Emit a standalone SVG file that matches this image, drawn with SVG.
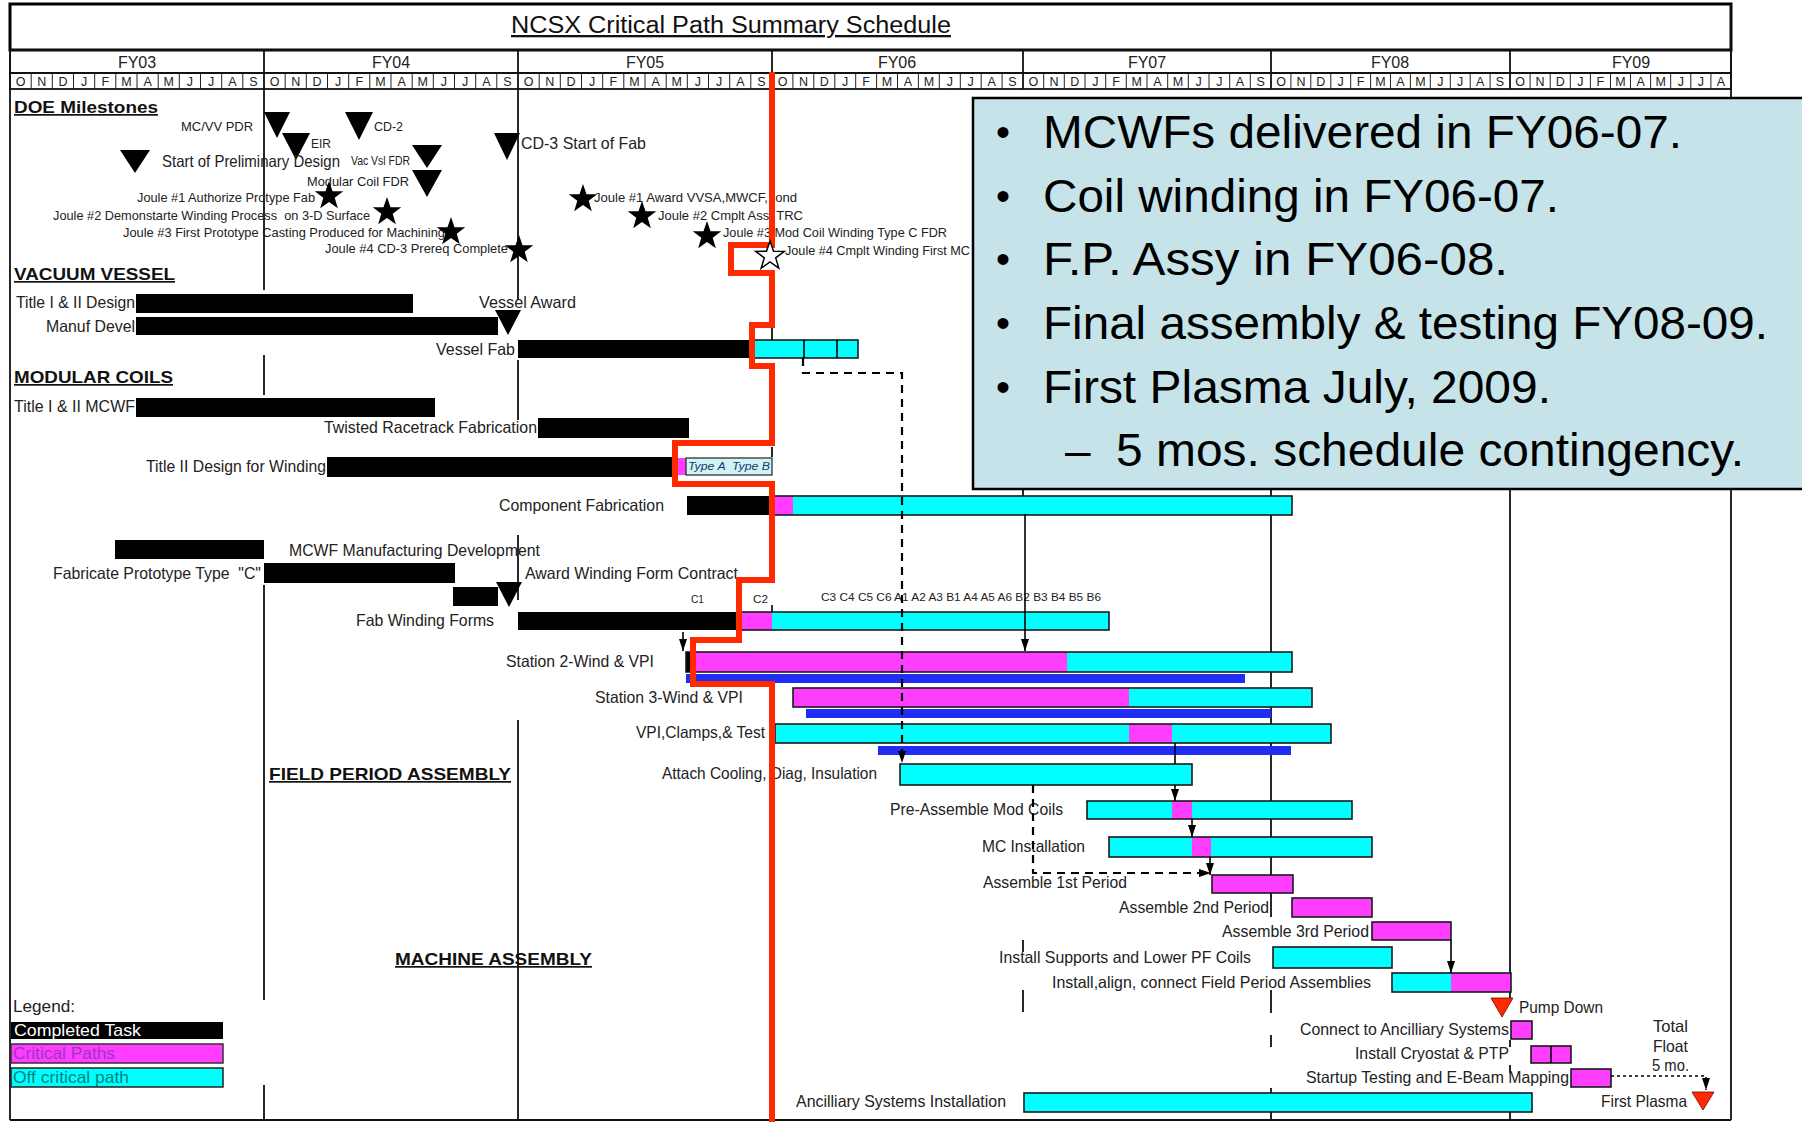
<svg xmlns="http://www.w3.org/2000/svg" width="1802" height="1122" viewBox="0 0 1802 1122">
<defs>
<style>
text{font-family:"Liberation Sans",Arial,sans-serif;fill:#222}
.l{font-size:16.5px}
.s{font-size:13px}
.t{font-size:11.5px}
.h{font-size:17px;font-weight:bold;text-decoration:underline;fill:#111}
.mo{font-size:12.5px;text-anchor:middle}
.fy{font-size:16px;text-anchor:middle}
.k{fill:#000}
.m{fill:#ff3dff}
.c{fill:#00ffff}
.o{fill:none;stroke:#1a1a1a;stroke-width:1.6}
.b{fill:#1f2ef2}
.g{stroke:#111;stroke-width:1.8;fill:none}
.cn{stroke:#000;stroke-width:1.6;fill:none}
.d{stroke:#000;stroke-width:2.2;fill:none;stroke-dasharray:8 6}
.tri{fill:#000}
.rt{fill:#ff2a00;stroke:#700;stroke-width:0.8}
.big{font-size:46px;fill:#000}
.bul{font-size:40px;fill:#000;text-anchor:middle}
</style>
<marker id="ah" viewBox="0 0 12 8" refX="12" refY="4" markerWidth="12" markerHeight="8" markerUnits="userSpaceOnUse" orient="auto"><path d="M0,0 L12,4 L0,8 z" fill="#000"/></marker>
<path id="star" d="M0,-15 L3.53,-4.85 L14.27,-4.64 L5.71,1.85 L8.82,12.14 L0,6 L-8.82,12.14 L-5.71,1.85 L-14.27,-4.64 L-3.53,-4.85 Z"/>
</defs>
<rect x="0" y="0" width="1802" height="1122" fill="#fff"/>

<g id="header">
<rect x="10" y="4" width="1721" height="46" fill="#fff" stroke="#000" stroke-width="3"/>
<text x="511" y="33" font-size="23" text-decoration="underline" textLength="440" lengthAdjust="spacingAndGlyphs" style="fill:#111">NCSX Critical Path Summary Schedule</text>
<rect x="10" y="50" width="1721" height="23" class="g"/>
<rect x="10" y="73" width="1721" height="16" class="g"/>
<path class="g" d="M264,50V89 M518,50V89 M772,50V89 M1023,50V89 M1271,50V89 M1510,50V89"/>
<path stroke="#222" stroke-width="1" fill="none" d="M31.2,73V89 M52.3,73V89 M73.5,73V89 M94.7,73V89 M115.8,73V89 M137,73V89 M158.2,73V89 M179.3,73V89 M200.5,73V89 M221.7,73V89 M242.8,73V89 M285.2,73V89 M306.3,73V89 M327.5,73V89 M348.7,73V89 M369.8,73V89 M391,73V89 M412.2,73V89 M433.3,73V89 M454.5,73V89 M475.7,73V89 M496.8,73V89 M539.2,73V89 M560.3,73V89 M581.5,73V89 M602.7,73V89 M623.8,73V89 M645,73V89 M666.2,73V89 M687.3,73V89 M708.5,73V89 M729.7,73V89 M750.8,73V89 M792.9,73V89 M813.8,73V89 M834.8,73V89 M855.7,73V89 M876.6,73V89 M897.5,73V89 M918.4,73V89 M939.3,73V89 M960.3,73V89 M981.2,73V89 M1002.1,73V89 M1043.7,73V89 M1064.3,73V89 M1085,73V89 M1105.7,73V89 M1126.3,73V89 M1147,73V89 M1167.7,73V89 M1188.3,73V89 M1209,73V89 M1229.7,73V89 M1250.3,73V89 M1290.9,73V89 M1310.8,73V89 M1330.8,73V89 M1350.7,73V89 M1370.6,73V89 M1390.5,73V89 M1410.4,73V89 M1430.3,73V89 M1450.3,73V89 M1470.2,73V89 M1490.1,73V89 M1530.1,73V89 M1550.2,73V89 M1570.3,73V89 M1590.4,73V89 M1610.5,73V89 M1630.5,73V89 M1650.6,73V89 M1670.7,73V89 M1690.8,73V89 M1710.9,73V89"/>
<text class="fy" x="137" y="68">FY03</text>
<text class="fy" x="391" y="68">FY04</text>
<text class="fy" x="645" y="68">FY05</text>
<text class="fy" x="897" y="68">FY06</text>
<text class="fy" x="1147" y="68">FY07</text>
<text class="fy" x="1390" y="68">FY08</text>
<text class="fy" x="1631" y="68">FY09</text>
<text class="mo" y="86" x="20.6 41.8 62.9 84.1 105.3 126.4 147.6 168.8 189.9 211.1 232.3 253.4">ONDJFMAMJJAS</text>
<text class="mo" y="86" x="274.6 295.8 316.9 338.1 359.3 380.4 401.6 422.8 443.9 465.1 486.3 507.4">ONDJFMAMJJAS</text>
<text class="mo" y="86" x="528.6 549.8 570.9 592.1 613.3 634.4 655.6 676.8 697.9 719.1 740.3 761.4">ONDJFMAMJJAS</text>
<text class="mo" y="86" x="782.5 803.4 824.3 845.2 866.1 887 908 928.9 949.8 970.7 991.6 1012.5">ONDJFMAMJJAS</text>
<text class="mo" y="86" x="1033.3 1054 1074.7 1095.3 1116 1136.7 1157.3 1178 1198.7 1219.3 1240 1260.7">ONDJFMAMJJAS</text>
<text class="mo" y="86" x="1281 1300.9 1320.8 1340.7 1360.6 1380.5 1400.5 1420.4 1440.3 1460.2 1480.1 1500">ONDJFMAMJJAS</text>
<text class="mo" y="86" x="1520 1540.1 1560.2 1580.3 1600.4 1620.5 1640.6 1660.7 1680.8 1700.9 1721">ONDJFMAMJJA</text>
</g>

<g id="grid">
<path class="g" d="M10,50V1120 M1731,4V1120 M10,1120H1731"/>
<path class="g" d="M264,89V290 M264,355V395 M264,585V1000 M264,1085V1120 M518,89V300 M518,360V420 M518,535V600 M518,720V1120 M1023,489V514 M1023,940V952 M1023,990V1012 M1271,489V917 M1271,990V1013 M1271,1035V1047 M1271,1088V1120 M1510,489V1000 M1510,1040V1047 M1510,1065V1073 M1510,1093V1120 M772,327V340 M772,447V457"/>
</g>

<g id="section-headers">
<text class="h" x="14" y="113" textLength="144" lengthAdjust="spacingAndGlyphs">DOE Milestones</text>
<text class="h" x="14" y="280" textLength="161" lengthAdjust="spacingAndGlyphs">VACUUM VESSEL</text>
<text class="h" x="14" y="383" textLength="159" lengthAdjust="spacingAndGlyphs">MODULAR COILS</text>
<text class="h" x="269" y="780" textLength="242" lengthAdjust="spacingAndGlyphs">FIELD PERIOD ASSEMBLY</text>
<text class="h" x="395" y="965" textLength="197" lengthAdjust="spacingAndGlyphs">MACHINE ASSEMBLY</text>
</g>

<g id="milestones">
<g id="ms-mcvv-pdr"><polygon class="tri" points="264,112 290,112 277,138"/><text class="s" x="181" y="131" textLength="72" lengthAdjust="spacingAndGlyphs">MC/VV PDR</text></g>
<g id="ms-cd2"><polygon class="tri" points="345,112 373,112 359,140"/><text class="s" x="374" y="131" textLength="29" lengthAdjust="spacingAndGlyphs">CD-2</text></g>
<g id="ms-eir"><polygon class="tri" points="282,133 310,133 296,160"/><text class="s" x="311" y="148" textLength="20" lengthAdjust="spacingAndGlyphs">EIR</text></g>
<g id="ms-prelim"><polygon class="tri" points="120,150 150,150 135,173"/><text class="l" x="162" y="167" textLength="178" lengthAdjust="spacingAndGlyphs">Start of Preliminary Design</text></g>
<g id="ms-vacvsl"><polygon class="tri" points="412,145 442,145 427,168"/><text class="s" x="351" y="165" textLength="59" lengthAdjust="spacingAndGlyphs">Vac Vsl FDR</text></g>
<g id="ms-mcfdr"><polygon class="tri" points="412,170 442,170 427,197"/><text class="s" x="307" y="186" textLength="102" lengthAdjust="spacingAndGlyphs">Modular Coil FDR</text></g>
<g id="ms-cd3"><polygon class="tri" points="494,133 520,133 507,160"/><text class="l" x="521" y="149" textLength="125" lengthAdjust="spacingAndGlyphs">CD-3 Start of Fab</text></g>
<g id="j1a"><use href="#star" x="329" y="196" fill="#000"/><text class="s" x="137" y="202" textLength="178" lengthAdjust="spacingAndGlyphs">Joule #1 Authorize Protype Fab</text></g>
<g id="j2a"><use href="#star" x="387" y="212" fill="#000"/><text class="s" x="53" y="220" textLength="317" lengthAdjust="spacingAndGlyphs" xml:space="preserve">Joule #2 Demonstarte Winding Process  on 3-D Surface</text></g>
<g id="j3a"><use href="#star" x="451" y="232" fill="#000"/><text class="s" x="123" y="237" textLength="322" lengthAdjust="spacingAndGlyphs">Joule #3 First Prototype Casting Produced for Machining</text></g>
<g id="j4a"><use href="#star" x="519" y="250" fill="#000"/><text class="s" x="325" y="253" textLength="183" lengthAdjust="spacingAndGlyphs">Joule #4 CD-3 Prereq Complete</text></g>
<g id="j1b"><text class="s" x="594" y="202" textLength="203" lengthAdjust="spacingAndGlyphs" xml:space="preserve">Joule #1 Award VVSA,MWCF,  ond</text><use href="#star" x="583" y="199" fill="#000"/></g>
<g id="j2b"><text class="s" x="658" y="220" textLength="145" lengthAdjust="spacingAndGlyphs" xml:space="preserve">Joule #2 Cmplt Ass  TRC</text><use href="#star" x="642" y="216" fill="#000"/></g>
<g id="j3b"><text class="s" x="723" y="237" textLength="224" lengthAdjust="spacingAndGlyphs">Joule #3 Mod Coil Winding Type C FDR</text><use href="#star" x="707" y="236" fill="#000"/></g>
<g id="j4b"><text class="s" x="785" y="255" textLength="185" lengthAdjust="spacingAndGlyphs">Joule #4 Cmplt Winding First MC</text></g>
</g>

<g id="vacuum-vessel">
<g id="vv-title"><text class="l" x="16" y="308" textLength="119" lengthAdjust="spacingAndGlyphs">Title I &amp; II Design</text><rect class="k" x="136" y="294" width="277" height="19"/></g>
<g id="vv-award"><text class="l" x="479" y="308" textLength="97" lengthAdjust="spacingAndGlyphs">Vessel Award</text></g>
<g id="vv-manuf"><text class="l" x="46" y="332" textLength="89" lengthAdjust="spacingAndGlyphs">Manuf Devel</text><rect class="k" x="136" y="317" width="362" height="18"/><polygon class="tri" points="495,310 521,310 508,335"/></g>
<g id="vv-fab"><text class="l" x="436" y="355" textLength="79" lengthAdjust="spacingAndGlyphs">Vessel Fab</text><rect class="k" x="518" y="340" width="232" height="18"/><rect class="c" x="750" y="340" width="108" height="18"/><rect class="o" x="750" y="340" width="108" height="18"/><path class="cn" d="M804,340V358 M837,340V358"/></g>
</g>

<g id="modular-coils">
<g id="mc-title"><text class="l" x="14" y="412" textLength="121" lengthAdjust="spacingAndGlyphs">Title I &amp; II MCWF</text><rect class="k" x="136" y="398" width="299" height="19"/></g>
<g id="mc-twisted"><text class="l" x="324" y="433" textLength="213" lengthAdjust="spacingAndGlyphs">Twisted Racetrack Fabrication</text><rect class="k" x="538" y="418" width="151" height="20"/></g>
<g id="mc-t2design"><text class="l" x="146" y="472" textLength="180" lengthAdjust="spacingAndGlyphs">Title II Design for Winding</text><rect class="k" x="327" y="457" width="347" height="20"/><rect class="m" x="677" y="458" width="9" height="17"/><rect x="686" y="458" width="86" height="17" fill="#d2f3f5" stroke="#222" stroke-width="1.2"/><text class="t" x="688" y="470" font-style="italic" style="fill:#1c3570" textLength="82" lengthAdjust="spacingAndGlyphs" xml:space="preserve">Type A  Type B</text></g>
<g id="mc-component"><text class="l" x="499" y="511" textLength="165" lengthAdjust="spacingAndGlyphs">Component Fabrication</text><rect class="k" x="687" y="496" width="82" height="19"/><rect class="m" x="772" y="496" width="21" height="19"/><rect class="c" x="793" y="496" width="499" height="19"/><rect class="o" x="772" y="496" width="520" height="19"/></g>
<g id="mc-mfgdev"><rect class="k" x="115" y="540" width="149" height="19"/><text class="l" x="289" y="556" textLength="251" lengthAdjust="spacingAndGlyphs">MCWF Manufacturing Development</text></g>
<g id="mc-protoC"><text class="l" x="53" y="579" textLength="208" lengthAdjust="spacingAndGlyphs" xml:space="preserve">Fabricate Prototype Type  "C"</text><rect class="k" x="264" y="563" width="191" height="20"/></g>
<g id="mc-award"><text class="l" x="525" y="579" textLength="213" lengthAdjust="spacingAndGlyphs">Award Winding Form Contract</text><rect class="k" x="453" y="587" width="45" height="19"/><polygon class="tri" points="496,582 522,582 509,607"/></g>
<g id="mc-fabforms"><text class="t" x="691" y="603" textLength="13" lengthAdjust="spacingAndGlyphs">C1</text><text class="t" x="753" y="603" textLength="15" lengthAdjust="spacingAndGlyphs">C2</text><text class="t" x="821" y="601" textLength="280" lengthAdjust="spacingAndGlyphs">C3 C4 C5 C6 A1 A2 A3 B1 A4 A5 A6 B2 B3 B4 B5 B6</text><path class="cn" d="M772,605V612"/><text class="l" x="356" y="626" textLength="138" lengthAdjust="spacingAndGlyphs">Fab Winding Forms</text><rect class="k" x="518" y="612" width="220" height="18"/><rect class="m" x="740" y="612" width="32" height="18"/><rect class="c" x="772" y="612" width="337" height="18"/><rect class="o" x="740" y="612" width="369" height="18"/></g>
<g id="mc-st2"><text class="l" x="506" y="667" textLength="148" lengthAdjust="spacingAndGlyphs">Station 2-Wind &amp; VPI</text><rect class="k" x="686" y="652" width="6" height="20"/><rect class="m" x="692" y="652" width="375" height="20"/><rect class="c" x="1067" y="652" width="225" height="20"/><rect class="o" x="686" y="652" width="606" height="20"/><rect class="b" x="686" y="674" width="559" height="9"/></g>
<g id="mc-st3"><text class="l" x="595" y="703" textLength="148" lengthAdjust="spacingAndGlyphs">Station 3-Wind &amp; VPI</text><rect class="m" x="793" y="688" width="336" height="19"/><rect class="c" x="1129" y="688" width="183" height="19"/><rect class="o" x="793" y="688" width="519" height="19"/><rect class="b" x="806" y="709" width="465" height="9"/></g>
<g id="mc-vpi"><text class="l" x="636" y="738" textLength="129" lengthAdjust="spacingAndGlyphs">VPI,Clamps,&amp; Test</text><rect class="c" x="775" y="724" width="354" height="19"/><rect class="m" x="1129" y="724" width="43" height="19"/><rect class="c" x="1172" y="724" width="159" height="19"/><rect class="o" x="775" y="724" width="556" height="19"/><rect class="b" x="878" y="746" width="413" height="9"/></g>
</g>

<g id="field-period">
<g id="fp-attach"><text class="l" x="662" y="779" textLength="215" lengthAdjust="spacingAndGlyphs">Attach Cooling, Diag, Insulation</text><rect class="c" x="900" y="764" width="292" height="21"/><rect class="o" x="900" y="764" width="292" height="21"/></g>
<g id="fp-preassemble"><text class="l" x="890" y="815" textLength="173" lengthAdjust="spacingAndGlyphs">Pre-Assemble Mod Coils</text><rect class="c" x="1087" y="801" width="265" height="18"/><rect class="m" x="1172" y="801" width="20" height="18"/><rect class="o" x="1087" y="801" width="265" height="18"/></g>
<g id="fp-mcinstall"><text class="l" x="982" y="852" textLength="103" lengthAdjust="spacingAndGlyphs">MC Installation</text><rect class="c" x="1109" y="837" width="263" height="20"/><rect class="m" x="1192" y="837" width="19" height="20"/><rect class="o" x="1109" y="837" width="263" height="20"/></g>
<g id="fp-1st"><text class="l" x="983" y="888" textLength="144" lengthAdjust="spacingAndGlyphs">Assemble 1st Period</text><rect class="m" x="1212" y="875" width="81" height="18"/><rect class="o" x="1212" y="875" width="81" height="18"/></g>
<g id="fp-2nd"><text class="l" x="1119" y="913" textLength="150" lengthAdjust="spacingAndGlyphs">Assemble 2nd Period</text><rect class="m" x="1292" y="898" width="80" height="19"/><rect class="o" x="1292" y="898" width="80" height="19"/></g>
<g id="fp-3rd"><text class="l" x="1222" y="937" textLength="147" lengthAdjust="spacingAndGlyphs">Assemble 3rd Period</text><rect class="m" x="1372" y="922" width="79" height="18"/><rect class="o" x="1372" y="922" width="79" height="18"/></g>
</g>

<g id="machine-assembly">
<g id="ma-supports"><text class="l" x="999" y="963" textLength="252" lengthAdjust="spacingAndGlyphs">Install Supports and Lower PF Coils</text><rect class="c" x="1273" y="947" width="119" height="21"/><rect class="o" x="1273" y="947" width="119" height="21"/></g>
<g id="ma-align"><text class="l" x="1052" y="988" textLength="319" lengthAdjust="spacingAndGlyphs">Install,align, connect Field Period Assemblies</text><rect class="c" x="1392" y="973" width="59" height="19"/><rect class="m" x="1451" y="973" width="60" height="19"/><rect class="o" x="1392" y="973" width="119" height="19"/></g>
<g id="ma-pump"><polygon class="rt" points="1491,998 1513,998 1502,1017"/><text class="l" x="1519" y="1013" textLength="84" lengthAdjust="spacingAndGlyphs">Pump Down</text></g>
<g id="ma-connect"><text class="l" x="1300" y="1035" textLength="209" lengthAdjust="spacingAndGlyphs">Connect to Ancilliary Systems</text><rect class="m" x="1511" y="1021" width="21" height="18"/><rect class="o" x="1511" y="1021" width="21" height="18"/></g>
<g id="ma-cryostat"><text class="l" x="1355" y="1059" textLength="154" lengthAdjust="spacingAndGlyphs">Install Cryostat &amp; PTP</text><rect class="m" x="1531" y="1046" width="40" height="17"/><rect class="o" x="1531" y="1046" width="40" height="17"/><path class="cn" d="M1551,1046V1063"/></g>
<g id="ma-startup"><text class="l" x="1306" y="1083" textLength="263" lengthAdjust="spacingAndGlyphs">Startup Testing and E-Beam Mapping</text><rect class="m" x="1571" y="1069" width="40" height="18"/><rect class="o" x="1571" y="1069" width="40" height="18"/></g>
<g id="ma-float"><text class="l" x="1653" y="1032" textLength="35" lengthAdjust="spacingAndGlyphs">Total</text><text class="l" x="1653" y="1052" textLength="35" lengthAdjust="spacingAndGlyphs">Float</text><text class="l" x="1652" y="1071" textLength="37" lengthAdjust="spacingAndGlyphs">5 mo.</text></g>
<g id="ma-firstplasma"><text class="l" x="1601" y="1107" textLength="86" lengthAdjust="spacingAndGlyphs">First Plasma</text><polygon class="rt" points="1692,1092 1714,1092 1703,1110"/></g>
<g id="ma-ancillary"><text class="l" x="796" y="1107" textLength="210" lengthAdjust="spacingAndGlyphs">Ancilliary Systems Installation</text><rect class="c" x="1024" y="1093" width="508" height="19"/><rect class="o" x="1024" y="1093" width="508" height="19"/></g>
</g>

<g id="connectors">
<path class="d" d="M803,358 V373 H902 V763" marker-end="url(#ah)"/>
<path class="cn" d="M683,632 V651" marker-end="url(#ah)"/>
<path class="cn" d="M1025,514 V651" marker-end="url(#ah)"/>
<path class="cn" d="M1175,743 V764"/>
<path class="cn" d="M1175,785 V801" marker-end="url(#ah)"/>
<path class="cn" d="M1192,819 V837" marker-end="url(#ah)"/>
<path class="cn" d="M1210,857 V875" marker-end="url(#ah)"/>
<path class="d" d="M1033,785 V873 H1211" marker-end="url(#ah)"/>
<path class="cn" d="M1451,940 V973" marker-end="url(#ah)"/>
<path stroke="#000" stroke-width="1.6" fill="none" stroke-dasharray="3 3" d="M1611,1076 H1706 V1090" marker-end="url(#ah)"/>
</g>

<g id="critical-path">
<path d="M772,72 V245 H731 V273 H772 V325 H752 V366 H772 V443 H675 V484 H772 V580 H739 V640 H693 V684 H772 V1122" fill="none" stroke="#ff2a00" stroke-width="6" stroke-linejoin="miter"/>
</g>

<g id="open-star"><use href="#star" x="770" y="256" fill="#fff" stroke="#000" stroke-width="1.5"/></g>

<g id="legend">
<text class="l" x="13" y="1012" textLength="62" lengthAdjust="spacingAndGlyphs">Legend:</text>
<rect x="11" y="1022" width="212" height="17" fill="#000"/>
<text class="l" x="14" y="1036" textLength="127" lengthAdjust="spacingAndGlyphs" style="fill:#fff">Completed Task</text>
<rect x="11" y="1044" width="212" height="19" fill="#ff3dff" stroke="#333" stroke-width="1.5"/>
<text class="l" x="13" y="1059" textLength="102" lengthAdjust="spacingAndGlyphs" style="fill:#9c36c2">Critical Paths</text>
<rect x="11" y="1068" width="212" height="19" fill="#00ffff" stroke="#222" stroke-width="1.5"/>
<text class="l" x="13" y="1083" textLength="116" lengthAdjust="spacingAndGlyphs" style="fill:#00807f">Off critical path</text>
</g>

<g id="callout">
<rect x="973" y="98" width="840" height="391" fill="#c5e3e8" stroke="#000" stroke-width="2.5"/>
<text class="bul" x="1003" y="146">•</text>
<text class="big" x="1043" y="148" textLength="639" lengthAdjust="spacingAndGlyphs">MCWFs delivered in FY06-07.</text>
<text class="bul" x="1003" y="210">•</text>
<text class="big" x="1043" y="212" textLength="516" lengthAdjust="spacingAndGlyphs">Coil winding in FY06-07.</text>
<text class="bul" x="1003" y="273">•</text>
<text class="big" x="1043" y="275" textLength="465" lengthAdjust="spacingAndGlyphs">F.P. Assy in FY06-08.</text>
<text class="bul" x="1003" y="337">•</text>
<text class="big" x="1043" y="339" textLength="725" lengthAdjust="spacingAndGlyphs">Final assembly &amp; testing FY08-09.</text>
<text class="bul" x="1003" y="401">•</text>
<text class="big" x="1043" y="403" textLength="508" lengthAdjust="spacingAndGlyphs">First Plasma July, 2009.</text>
<text class="big" x="1065" y="466">–</text>
<text class="big" x="1116" y="466" textLength="628" lengthAdjust="spacingAndGlyphs">5 mos. schedule contingency.</text>
</g>
</svg>
